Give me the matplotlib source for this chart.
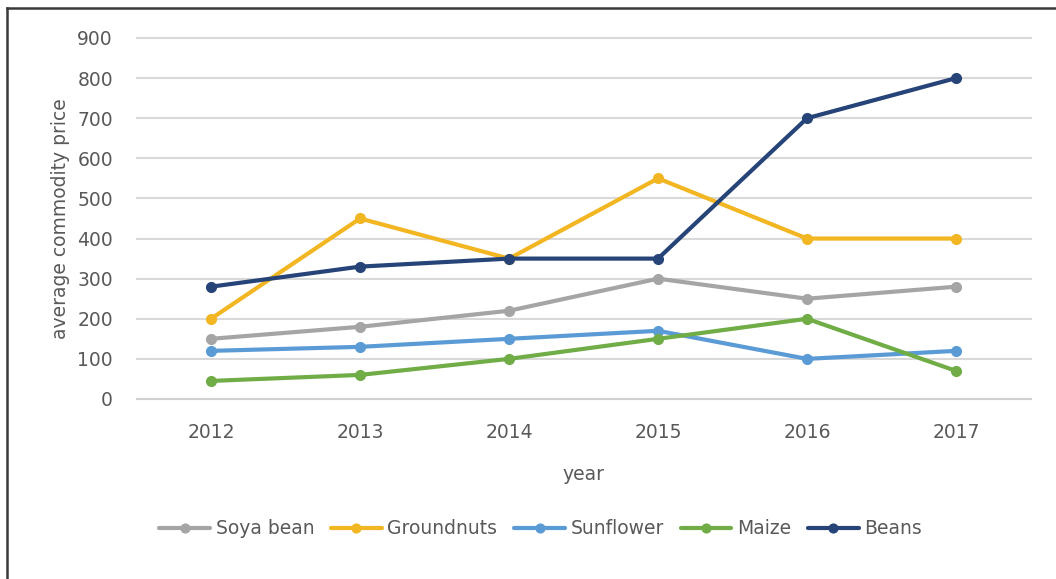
import matplotlib
matplotlib.use("Agg")
import matplotlib.pyplot as plt
from matplotlib.lines import Line2D

years = ["2012", "2013", "2014", "2015", "2016", "2017"]
soya_bean = [150, 180, 220, 300, 250, 280]
groundnuts = [200, 450, 350, 550, 400, 400]
sunflower = [120, 130, 150, 170, 100, 120]
maize = [45, 60, 100, 150, 200, 70]
beans = [280, 330, 350, 350, 700, 800]

series_names = ["Soya bean", "Groundnuts", "Sunflower", "Maize", "Beans"]
series_values = [soya_bean, groundnuts, sunflower, maize, beans]
series_colors = ["#A5A5A5", "#F2B622", "#5B9BD5", "#70AD47", "#264478"]

y_ticks = [0, 100, 200, 300, 400, 500, 600, 700, 800, 900]

text_color = "#595959"
plt.rcParams["font.family"] = ["DejaVu Sans"]

fig = plt.figure(figsize=(10.56, 5.79), dpi=100)
ax = fig.add_axes([0.1293, 0.3109, 0.8466, 0.6235])

x = [i + 0.5 for i in range(len(years))]
for name, vals, col in zip(series_names, series_values, series_colors):
    ax.plot(x, vals, color=col, linewidth=3.0, marker="o", markersize=7,
            markeredgecolor=col, markerfacecolor=col, label=name,
            solid_capstyle="round", solid_joinstyle="round", zorder=3)

ax.set_xlim(0, len(years))
ax.set_ylim(0, 900)
ax.set_xticks(x)
ax.set_xticklabels(years)
ax.set_yticks(y_ticks)
ax.set_yticklabels([str(v) for v in y_ticks])
ax.tick_params(axis="both", length=0, labelsize=13.5, labelcolor=text_color)
ax.tick_params(axis="y", pad=17)
ax.tick_params(axis="x", pad=17)

ax.grid(axis="y", color="#D9D9D9", linewidth=1.5, zorder=0)
for gl in ax.get_ygridlines():
    gl.set_clip_on(False)
ax.set_axisbelow(True)
for side in ["top", "right", "left"]:
    ax.spines[side].set_visible(False)
ax.spines["bottom"].set_color("#D0D0D0")
ax.spines["bottom"].set_linewidth(1.5)

ax.set_xlabel("year", fontsize=13.5, color=text_color, labelpad=17)
ax.set_ylabel("average commodity price", fontsize=13.5, color=text_color)
ax.yaxis.set_label_coords(-0.074, 0.5)

fig.legend(loc="center", bbox_to_anchor=(0.512, 0.0864), ncol=5, frameon=False,
           fontsize=13.5, labelcolor=text_color, handlelength=2.7,
           handletextpad=0.3, columnspacing=0.9, markerscale=0.9)

# frame edges along the top and left of the canvas
fig.add_artist(Line2D([6.5 / 1056, 1.0], [1 - 7.5 / 579, 1 - 7.5 / 579],
                      transform=fig.transFigure, color="#3A3A3A", linewidth=1.8))
fig.add_artist(Line2D([6.5 / 1056, 6.5 / 1056], [0.0, 1 - 7.5 / 579],
                      transform=fig.transFigure, color="#3A3A3A", linewidth=1.8))

fig.savefig("out.png", dpi=100, facecolor="white")
